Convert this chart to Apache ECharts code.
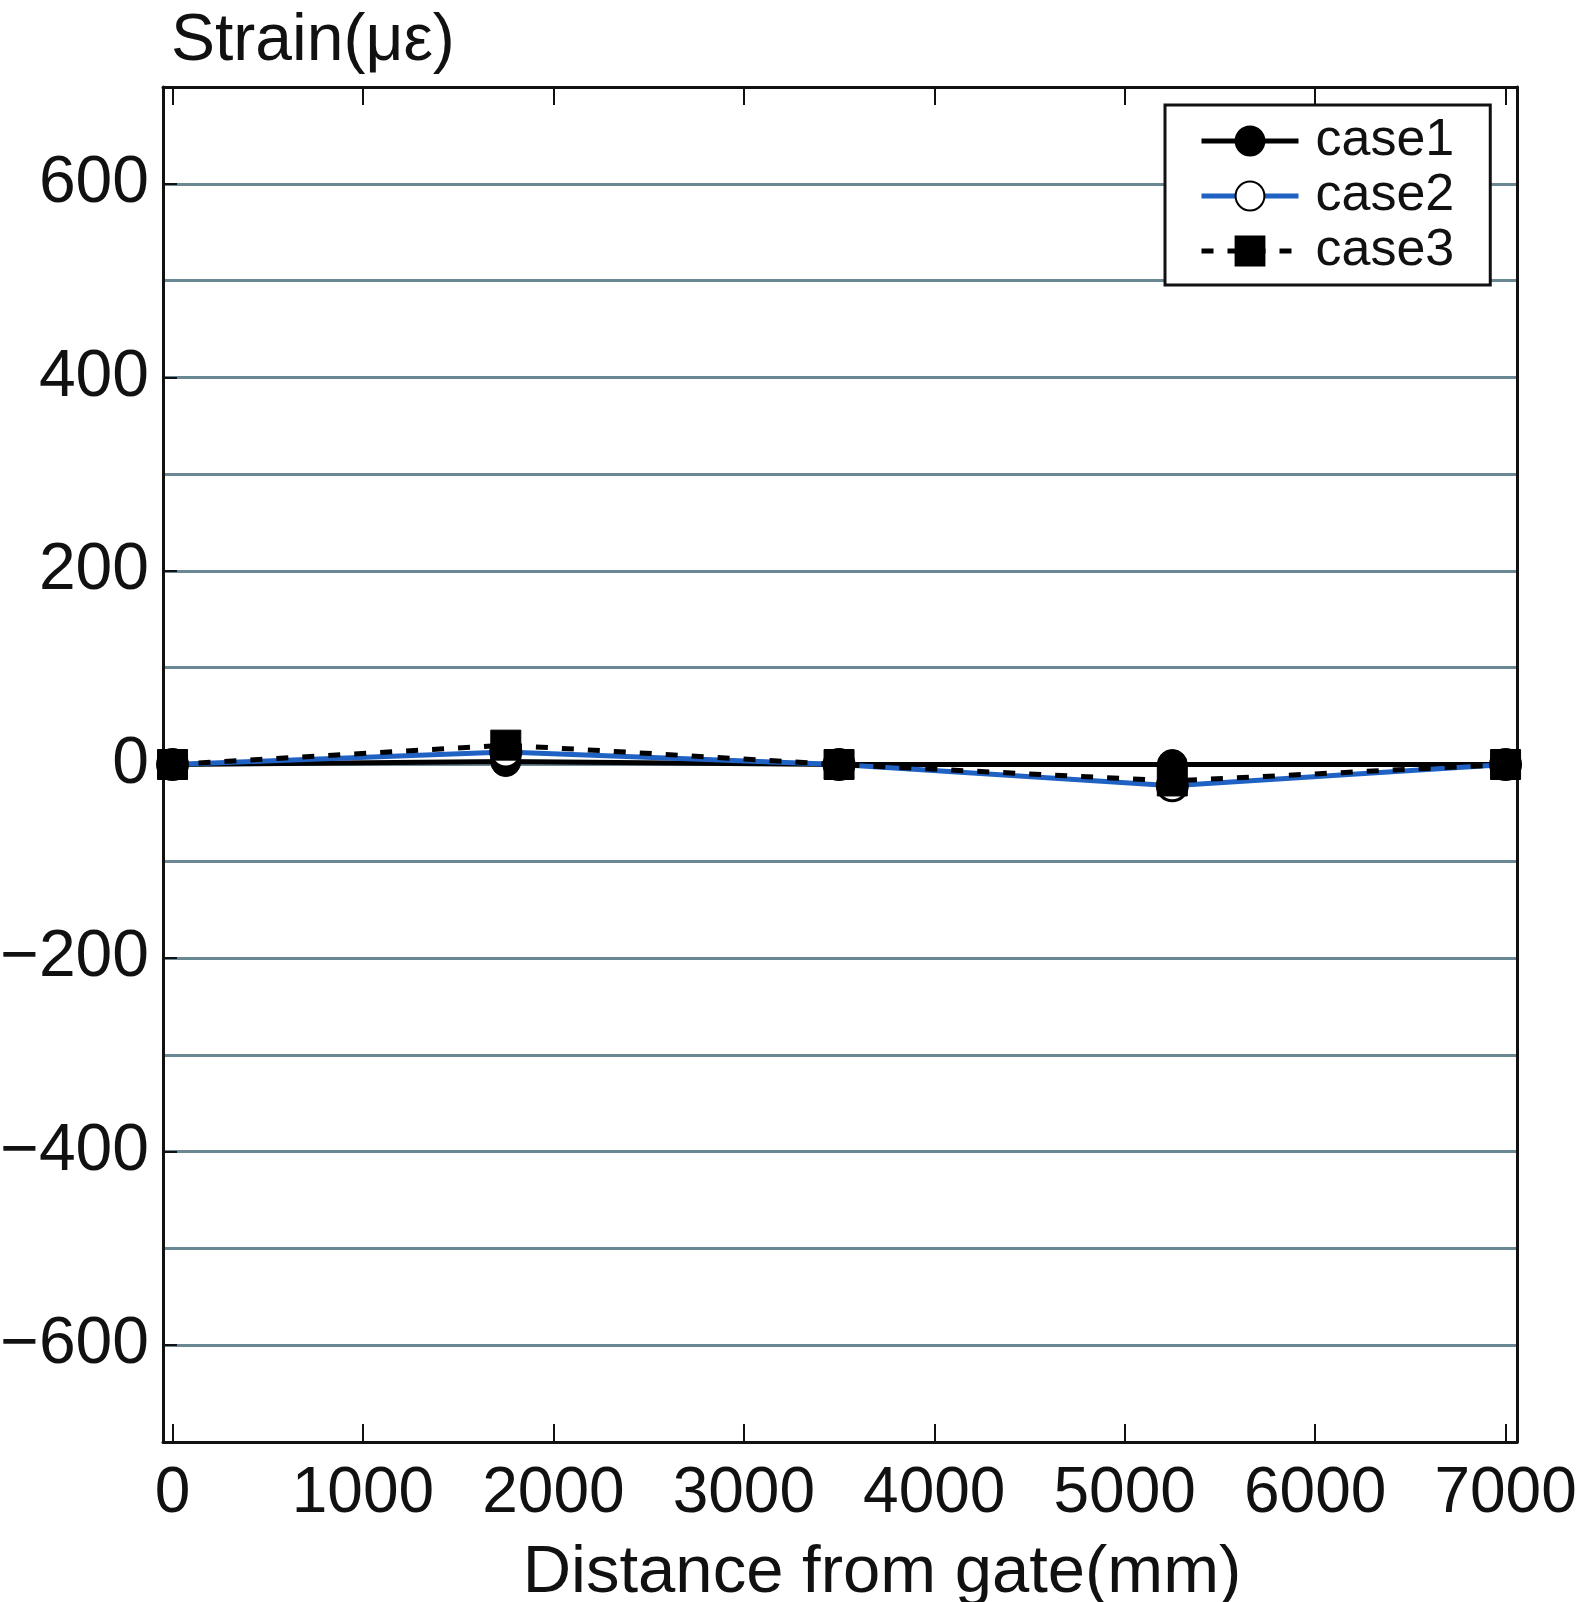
<!DOCTYPE html>
<html><head><meta charset="utf-8">
<script src="https://cdn.jsdelivr.net/npm/echarts@6/dist/echarts.min.js"></script>
<style>html,body{margin:0;padding:0;background:#fff}#c{width:1596px;height:1602px}</style>
</head><body><div id="c"></div>
<script>
const distances = [0, 1750, 3500, 5250, 7000];
const case1 = [0, 3, 0, 0, 0];
const case2 = [0, 13, 0, -22, 0];
const case3 = [0, 20, 0, -17, 0];
const xTicks = [0, 1000, 2000, 3000, 4000, 5000, 6000, 7000];
const yTicks = [-600, -400, -200, 0, 200, 400, 600];
const seriesNames = ['case1', 'case2', 'case3'];

const FONT = '"Liberation Sans", Arial, sans-serif';
const pairs = arr => distances.map((d, i) => [d, arr[i]]);
const chart = echarts.init(document.getElementById('c'), null, {renderer: 'canvas'});
chart.setOption({
  animation: false,
  backgroundColor: '#fff',
  grid: {left: 163, top: 87, right: 79, bottom: 160, containLabel: false, outerBoundsMode: 'none'},
  xAxis: [{
    type: 'value', min: -50, max: 7060, position: 'bottom',
    name: 'Distance from gate(mm)', nameLocation: 'middle', nameGap: 98,
    nameTextStyle: {fontFamily: FONT, fontSize: 67, color: '#111', padding: [0, 0, 0, 84]},
    axisLine: {show: true, onZero: false, lineStyle: {color: '#111', width: 3}},
    axisTick: {show: true, inside: true, length: 18, customValues: xTicks, lineStyle: {color: '#111', width: 2}},
    axisLabel: {customValues: xTicks, margin: 20, formatter: v => String(v), fontFamily: FONT, fontSize: 64, color: '#111'},
    splitLine: {show: false}
  }, {
    type: 'value', min: -50, max: 7060, position: 'top',
    axisLine: {show: true, onZero: false, lineStyle: {color: '#111', width: 3}},
    axisTick: {show: true, inside: true, length: 18, customValues: xTicks, lineStyle: {color: '#111', width: 2}},
    axisLabel: {show: false}, splitLine: {show: false}
  }],
  yAxis: [{
    type: 'value', min: -700, max: 700, interval: 100, position: 'left',
    name: 'Strain(με)', nameLocation: 'end', nameGap: 0,
    nameTextStyle: {fontFamily: FONT, fontSize: 66, color: '#111', align: 'left', verticalAlign: 'bottom', padding: [0, 0, 12, 8]},
    axisLine: {show: true, onZero: false, lineStyle: {color: '#111', width: 3}},
    axisTick: {show: true, inside: true, length: 14, customValues: yTicks, lineStyle: {color: '#111', width: 2}},
    axisLabel: {customValues: yTicks, margin: 14, formatter: v => String(v).replace('-', '\u2212'), fontFamily: FONT, fontSize: 66, color: '#111'},
    splitLine: {show: false}
  }, {
    type: 'value', min: -700, max: 700, interval: 100, position: 'right',
    axisLine: {show: true, onZero: false, lineStyle: {color: '#111', width: 3}},
    axisTick: {show: false},
    axisLabel: {show: false},
    splitLine: {show: true, lineStyle: {color: '#6a8794', width: 3}}
  }],
  legend: {
    show: true, orient: 'vertical', left: 1165, top: 105,
    data: seriesNames,
    backgroundColor: '#fff', borderColor: '#111', borderWidth: 3,
    padding: [10, 36, 8, 34], itemGap: 3, itemWidth: 97, itemHeight: 36,
    lineStyle: {width: 5},
    textStyle: {fontFamily: FONT, fontSize: 52, color: '#111', lineHeight: 52, padding: [0, 0, 0, 12]}
  },
  series: [{
    name: seriesNames[0], type: 'line', data: pairs(case1),
    symbol: 'circle', symbolSize: 30, z: 3,
    lineStyle: {color: '#000', width: 5},
    itemStyle: {color: '#000', borderColor: '#000', borderWidth: 1}
  }, {
    name: seriesNames[1], type: 'line', data: pairs(case2),
    symbol: 'circle', symbolSize: 30, z: 4,
    lineStyle: {color: '#1f62c4', width: 5},
    itemStyle: {color: '#fff', borderColor: '#000', borderWidth: 3}
  }, {
    name: seriesNames[2], type: 'line', data: pairs(case3),
    symbol: 'rect', symbolSize: 30, z: 5,
    lineStyle: {color: '#000', width: 5, type: [12, 14]},
    itemStyle: {color: '#000', borderColor: '#000', borderWidth: 1}
  }]
});
</script></body></html>
